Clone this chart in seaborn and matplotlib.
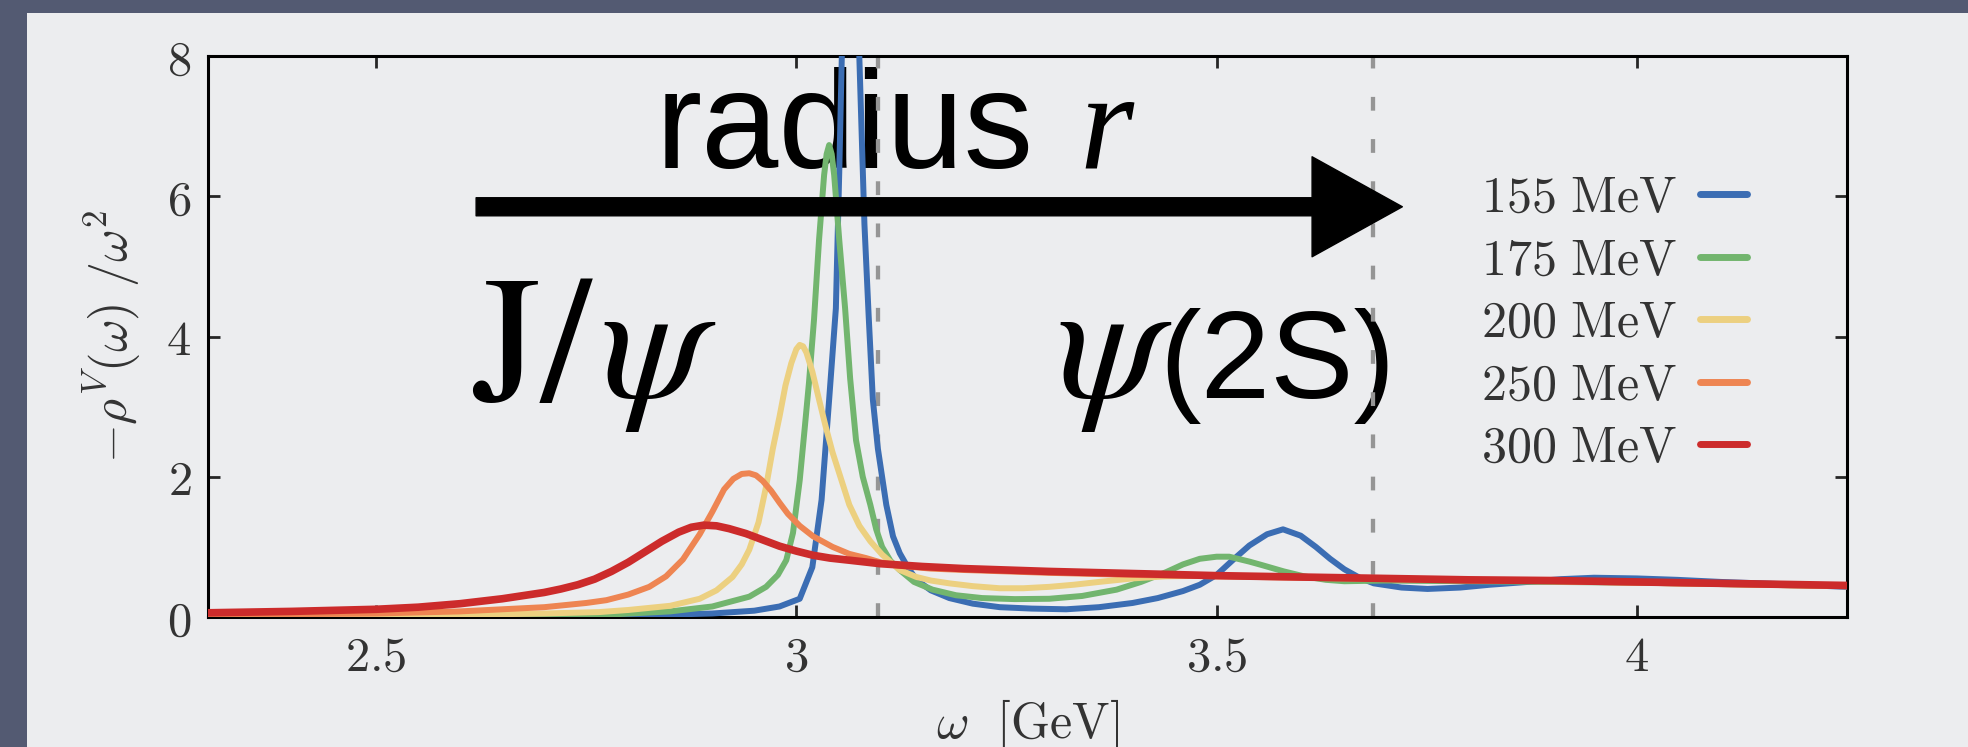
import matplotlib
matplotlib.use("Agg")
import matplotlib.pyplot as plt
import matplotlib.patches as mpatches
from matplotlib.ticker import FuncFormatter, FixedLocator
import pandas as pd
import seaborn as sns

# spectral functions, one list pair per temperature
temperatures = ['155', '175', '200', '250', '300']

omega_155 = [2.30, 2.50, 2.70, 2.80, 2.90, 2.95, 2.98, 3.004, 3.019, 3.030, 3.039, 3.047,
             3.051, 3.054, 3.058, 3.065, 3.072, 3.075, 3.081, 3.086, 3.091, 3.097, 3.107,
             3.115, 3.123, 3.133, 3.143, 3.160, 3.182, 3.21, 3.242, 3.28, 3.321, 3.36, 3.40,
             3.43, 3.46, 3.48, 3.50, 3.52, 3.539, 3.56, 3.579, 3.60, 3.618, 3.635, 3.652,
             3.67, 3.687, 3.72, 3.751, 3.79, 3.825, 3.87, 3.91, 3.949, 4.0, 4.048, 4.10,
             4.17, 4.25]
rho_155 = [0.00, 0.01, 0.01, 0.02, 0.05, 0.09, 0.15, 0.26, 0.71, 1.67, 3.10, 4.40,
           6.33, 7.95, 10.0, 12.0, 10.0, 7.95, 5.6, 4.3, 3.1, 2.4, 1.6,
           1.15, 0.91, 0.70, 0.53, 0.38, 0.27, 0.19, 0.14, 0.12, 0.11, 0.14, 0.20,
           0.27, 0.37, 0.46, 0.60, 0.82, 1.02, 1.18, 1.25, 1.16, 1.00, 0.83, 0.68,
           0.56, 0.48, 0.42, 0.40, 0.42, 0.46, 0.50, 0.54, 0.56, 0.55, 0.53, 0.50,
           0.47, 0.43]

omega_175 = [2.30, 2.50, 2.70, 2.77, 2.85, 2.90, 2.944, 2.964, 2.978, 2.988, 2.996, 3.004,
             3.010, 3.015, 3.021, 3.027, 3.033, 3.036, 3.039, 3.042, 3.045, 3.051, 3.058,
             3.064, 3.071, 3.079, 3.088, 3.095, 3.102, 3.112, 3.123, 3.14, 3.162, 3.19,
             3.221, 3.26, 3.301, 3.34, 3.381, 3.41, 3.44, 3.46, 3.48, 3.50, 3.515, 3.539,
             3.554, 3.58, 3.604, 3.63, 3.652, 3.70, 3.80, 3.90, 4.0, 4.1, 4.25]
rho_175 = [0.00, 0.01, 0.02, 0.03, 0.08, 0.15, 0.29, 0.43, 0.60, 0.81, 1.20, 1.95,
           2.70, 3.34, 4.24, 5.38, 6.30, 6.60, 6.73, 6.60, 6.30, 5.38, 4.40,
           3.40, 2.52, 2.00, 1.60, 1.25, 1.00, 0.80, 0.67, 0.50, 0.39, 0.31,
           0.27, 0.255, 0.26, 0.30, 0.39, 0.50, 0.64, 0.75, 0.83, 0.86, 0.86, 0.79,
           0.74, 0.65, 0.58, 0.53, 0.51, 0.52, 0.51, 0.50, 0.49, 0.47, 0.44]

omega_200 = [2.30, 2.50, 2.60, 2.70, 2.765, 2.80, 2.85, 2.885, 2.905, 2.924, 2.935, 2.944,
             2.955, 2.964, 2.972, 2.98, 2.987, 2.994, 3.0, 3.004, 3.008, 3.012, 3.019,
             3.027, 3.035, 3.043, 3.051, 3.063, 3.075, 3.088, 3.102, 3.123, 3.143, 3.16,
             3.182, 3.21, 3.242, 3.27, 3.301, 3.33, 3.36, 3.40, 3.44, 3.5, 3.6, 3.7, 3.8,
             3.9, 4.0, 4.1, 4.25]
rho_200 = [0.01, 0.02, 0.03, 0.05, 0.07, 0.10, 0.16, 0.26, 0.38, 0.57, 0.75, 0.96,
           1.35, 1.86, 2.40, 2.86, 3.30, 3.62, 3.82, 3.88, 3.86, 3.77, 3.50,
           3.10, 2.71, 2.35, 2.05, 1.60, 1.30, 1.08, 0.89, 0.67, 0.57, 0.52,
           0.48, 0.44, 0.41, 0.41, 0.43, 0.46, 0.50, 0.55, 0.58, 0.59, 0.57, 0.55, 0.53,
           0.51, 0.49, 0.47, 0.44]

omega_250 = [2.30, 2.40, 2.50, 2.60, 2.70, 2.75, 2.774, 2.80, 2.825, 2.845, 2.865, 2.885,
             2.90, 2.914, 2.925, 2.935, 2.944, 2.952, 2.96, 2.97, 2.98, 2.99, 3.004, 3.02,
             3.043, 3.063, 3.083, 3.1, 3.123, 3.16, 3.2, 3.3, 3.4, 3.5, 3.6, 3.7, 3.8, 3.9,
             4.0, 4.1, 4.25]
rho_250 = [0.03, 0.04, 0.05, 0.08, 0.14, 0.20, 0.24, 0.32, 0.43, 0.58, 0.82, 1.18,
           1.50, 1.82, 1.97, 2.04, 2.05, 2.02, 1.94, 1.80, 1.63, 1.47, 1.30, 1.15,
           1.00, 0.90, 0.84, 0.78, 0.73, 0.69, 0.67, 0.63, 0.60, 0.58, 0.56, 0.54, 0.52, 0.51,
           0.49, 0.47, 0.44]

omega_300 = [2.30, 2.40, 2.50, 2.55, 2.60, 2.65, 2.70, 2.72, 2.74, 2.76, 2.78, 2.80, 2.82,
             2.84, 2.86, 2.875, 2.89, 2.905, 2.92, 2.94, 2.96, 2.98, 3.0, 3.02, 3.04, 3.063,
             3.1, 3.15, 3.2, 3.3, 3.4, 3.5, 3.6, 3.7, 3.8, 3.9, 4.0, 4.1, 4.25]
rho_300 = [0.06, 0.08, 0.11, 0.14, 0.19, 0.26, 0.35, 0.40, 0.46, 0.54, 0.65, 0.78, 0.93,
           1.08, 1.21, 1.28, 1.31, 1.30, 1.26, 1.19, 1.10, 1.01, 0.94, 0.88, 0.84, 0.81,
           0.76, 0.72, 0.69, 0.65, 0.62, 0.59, 0.57, 0.55, 0.53, 0.52, 0.50, 0.48, 0.45]

# J/psi and psi(2S) masses
resonance_masses = [3.097, 3.686]

x_ticks = [2.5, 3, 3.5, 4]
y_ticks = [0, 2, 4, 6, 8]

omegas = [omega_155, omega_175, omega_200, omega_250, omega_300]
rhos = [rho_155, rho_175, rho_200, rho_250, rho_300]
colors = ['#3b6db3', '#72b56e', '#ecd080', '#ee8552', '#cc2b2b']
widths = [4.3, 4.3, 4.3, 4.3, 5.5]

sns.set_style("ticks")
plt.rcParams['mathtext.fontset'] = 'cm'
plt.rcParams['font.family'] = ['DejaVu Serif']

bg = '#ecedef'
fig = plt.figure(figsize=(19.68, 7.47), dpi=100, facecolor='#535a72')
# light slide area, the dark frame shows only at top and left
fig.patches.append(mpatches.Rectangle((27 / 1968, 0), 1, (747 - 13) / 747,
                                      transform=fig.transFigure, facecolor=bg,
                                      edgecolor='none', zorder=-10))
ax = fig.add_axes([208 / 1968, 130 / 747, 1639 / 1968, 561 / 747])
ax.set_facecolor(bg)

handles = []
for t, om, rho, c, lw in zip(temperatures, omegas, rhos, colors, widths):
    df = pd.DataFrame({'omega': om, 'rho': rho})
    sns.lineplot(data=df, x='omega', y='rho', ax=ax, color=c, lw=lw,
                 estimator=None, sort=False, legend=False, zorder=3,
                 solid_joinstyle='round', solid_capstyle='round')
    handles.append(ax.lines[-1])

for m in resonance_masses:
    ax.axvline(m, color='#959595', lw=3.1, dashes=(3.2, 6.6), zorder=2)

ax.set_xlim(2.3, 4.25)
ax.set_ylim(0, 8)
ax.xaxis.set_major_locator(FixedLocator(x_ticks))
ax.yaxis.set_major_locator(FixedLocator(y_ticks))
fmt = FuncFormatter(lambda v, p: r'$%g$' % v)
ax.xaxis.set_major_formatter(fmt)
ax.yaxis.set_major_formatter(fmt)
ax.tick_params(direction='in', length=8.6, width=2, top=True, right=True,
               labelsize=35, labelcolor='#333333', pad=12)
for s in ax.spines.values():
    s.set_visible(True)
    s.set_linewidth(2.2)
    s.set_color('black')

ax.set_xlabel(r'$\omega\ \ [\mathrm{GeV}]$', fontsize=36, color='#333333', labelpad=12)
ax.set_ylabel(r'$-\rho^V(\omega)\ /\omega^2$', fontsize=36, color='#333333', labelpad=17)

labels = [r'$%s\ \mathrm{MeV}$' % t for t in temperatures]
leg = ax.legend(handles, labels, loc='center right', bbox_to_anchor=(0.939, 0.524),
                frameon=False, markerfirst=False, fontsize=36, handlelength=0.95,
                handletextpad=0.45, labelspacing=0.26, borderpad=0, borderaxespad=0)
for txt in leg.get_texts():
    txt.set_color('#333333')
for ln in leg.get_lines():
    ln.set_linewidth(5.0)

# slide annotations
ink = 'black'
ax.text(2.832, 6.405, 'radius', fontsize=100, family='Liberation Sans', color=ink,
        va='baseline', ha='left', zorder=1)
ax.text(3.337, 6.405, 'r', fontsize=100, family='Liberation Serif', style='italic',
        color=ink, va='baseline', ha='left', zorder=1)
ax.text(2.614, 3.096, r'$\mathrm{J}/$', fontsize=130, math_fontfamily='stix', color=ink,
        va='baseline', ha='left', zorder=1)
ax.text(2.768, 3.14, r'$\psi$', fontsize=122, math_fontfamily='stix', color=ink,
        va='baseline', ha='left', zorder=1)
ax.text(3.31, 3.14, r'$\psi$', fontsize=122, math_fontfamily='stix', color=ink,
        va='baseline', ha='left', zorder=1)
ax.text(3.432, 3.124, '(2S)', fontsize=90, family='Liberation Sans', color=ink,
        va='baseline', ha='left', zorder=1)
ax.annotate('', xy=(3.721, 5.85), xytext=(2.619, 5.85),
            arrowprops=dict(arrowstyle='simple,head_length=0.65,head_width=0.72,tail_width=0.13',
                            mutation_scale=100, color=ink, shrinkA=0, shrinkB=0),
            zorder=5)

fig.savefig('out.png', dpi=100, facecolor=fig.get_facecolor())
